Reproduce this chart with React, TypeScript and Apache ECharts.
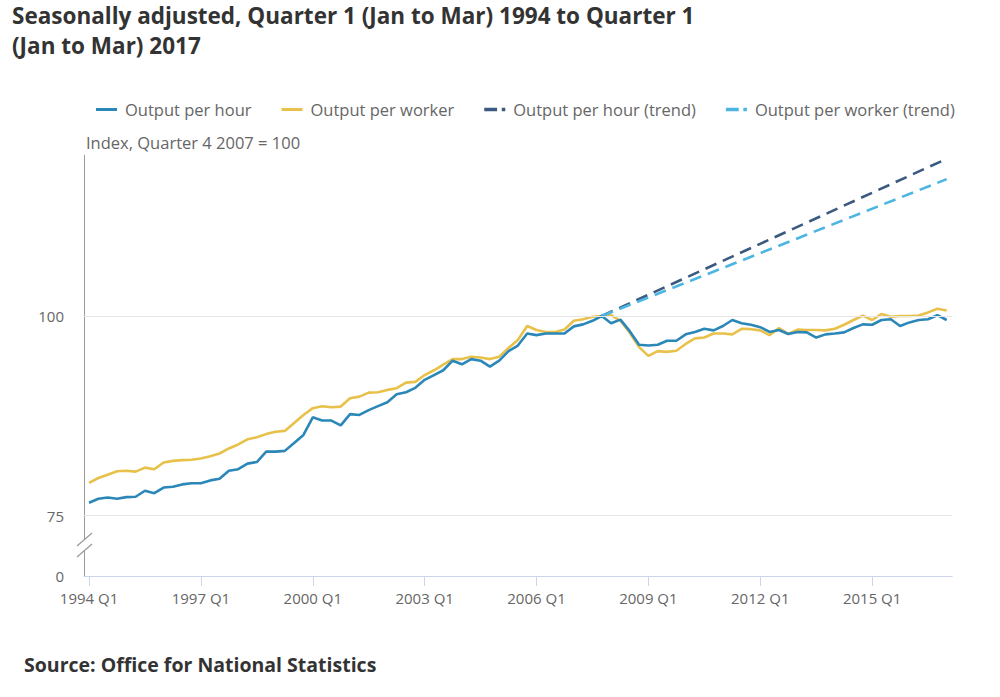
import React, { useEffect, useRef } from "react";
import * as echarts from "echarts";

const quarters: string[] = [];
for (let y = 1994; y <= 2017; y++) {
  for (let q = 1; q <= 4; q++) {
    if (y === 2017 && q > 1) break;
    quarters.push(`${y} Q${q}`);
  }
}

const tickIndices = [0, 12, 24, 36, 48, 60, 72, 84];

const outputPerHour = [
  76.6, 77.1, 77.25, 77.1, 77.3, 77.35, 78.1, 77.8, 78.5, 78.6,
  78.9, 79.05, 79.05, 79.4, 79.6, 80.6, 80.8, 81.5, 81.7, 83.0,
  83.0, 83.1, 84.1, 85.1, 87.3, 86.9, 86.9, 86.3, 87.7, 87.6,
  88.2, 88.7, 89.2, 90.2, 90.45, 91.0, 92.0, 92.6, 93.2, 94.4,
  93.95, 94.6, 94.4, 93.65, 94.4, 95.6, 96.3, 97.8, 97.6, 97.8,
  97.8, 97.8, 98.7, 98.95, 99.4, 100, 99.1, 99.55, 98.1, 96.4,
  96.3, 96.4, 96.9, 96.9, 97.7, 98.0, 98.4, 98.2, 98.75, 99.5,
  99.1, 98.9, 98.6, 98.0, 98.25, 97.75, 98.0, 97.95, 97.3, 97.7,
  97.8, 97.95, 98.5, 98.95, 98.9, 99.5, 99.6, 98.75, 99.2, 99.5,
  99.6, 100.1, 99.5,
];

const outputPerWorker = [
  79.1, 79.7, 80.1, 80.55, 80.6, 80.5, 81.0, 80.8, 81.65, 81.85,
  81.94, 81.98, 82.14, 82.44, 82.77, 83.4, 83.9, 84.55, 84.8, 85.2,
  85.5, 85.6, 86.6, 87.6, 88.45, 88.7, 88.57, 88.65, 89.7, 89.9,
  90.4, 90.45, 90.74, 90.95, 91.65, 91.75, 92.6, 93.2, 93.9, 94.6,
  94.6, 94.9, 94.8, 94.6, 94.9, 96.0, 97.0, 98.75, 98.25, 98.0,
  98.0, 98.3, 99.4, 99.6, 99.9, 100, 100.1, 99.4, 97.9, 96.1,
  95.0, 95.6, 95.5, 95.65, 96.5, 97.2, 97.3, 97.8, 97.8, 97.7,
  98.4, 98.35, 98.2, 97.6, 98.5, 97.75, 98.3, 98.25, 98.25, 98.2,
  98.4, 98.9, 99.5, 100.05, 99.5, 100.25, 99.9, 100.0, 100.0, 100.05,
  100.45, 100.9, 100.7,
];

// trend lines: [quarter index, value]
const hourTrend = [
  [55, 100],
  [92, 119.7],
];
const workerTrend = [
  [55, 100],
  [92, 117.15],
];

const yBreakValue = 67.42; // position labelled "0" (broken axis)
const yLabelValues = [yBreakValue, 75, 100];
const gridValues = [75, 100];

const titleLines = [
  "Seasonally adjusted, Quarter 1 (Jan to Mar) 1994 to Quarter 1",
  "(Jan to Mar) 2017",
];

const FONT = '"Open Sans", "Noto Sans", sans-serif';

export default function App() {
  const ref = useRef<HTMLDivElement>(null);

  useEffect(() => {
    document.body.style.margin = "0";
    if (!ref.current) return;
    const chart = echarts.init(ref.current, undefined, { renderer: "svg" });

    const toPairs = (arr: number[]) => arr.map((v, i) => [i, v]);

    chart.setOption({
      animation: false,
      textStyle: { fontFamily: FONT },
      grid: { left: 84, right: 47.7, top: 155.2, bottom: 121, containLabel: false },
      legend: {
        left: 91,
        top: 96,
        itemWidth: 21,
        itemHeight: 14,
        itemGap: 30,
        textStyle: { fontSize: 16.5, color: "#666", fontFamily: FONT, padding: [0, 0, 0, 3] },
        data: [
          { name: "Output per hour", icon: "path://M0,6h21v3h-21z", itemStyle: { color: "#2a87b8" } },
          { name: "Output per worker", icon: "path://M0,6h21v3h-21z", itemStyle: { color: "#e8c14a" } },
          { name: "Output per hour (trend)", icon: "path://M0,6h11v3h-11zM15,6h3v3h-3z", itemStyle: { color: "#3b5a80" } },
          { name: "Output per worker (trend)", icon: "path://M0,6h11v3h-11zM15,6h3v3h-3z", itemStyle: { color: "#4db5e2" } },
        ],
      },
      xAxis: {
        type: "value",
        min: -0.54,
        max: 92.6,
        axisLine: { show: true, onZero: false, lineStyle: { color: "#ccd6eb", width: 1 } },
        axisTick: {
          show: true,
          length: 10,
          customValues: tickIndices,
          lineStyle: { color: "#ccd6eb" },
        },
        axisLabel: {
          customValues: tickIndices,
          formatter: (v: number) => quarters[Math.round(v)] ?? "",
          fontSize: 15,
          color: "#666",
          margin: 14,
          fontFamily: FONT,
        },
        splitLine: { show: false },
      },
      yAxis: {
        type: "value",
        min: yBreakValue,
        max: 120.15,
        axisLine: { show: true, onZero: false, lineStyle: { color: "#999", width: 1 } },
        axisTick: { show: false },
        axisLabel: {
          customValues: yLabelValues,
          formatter: (v: number) => (v < 70 ? "0" : String(v)),
          fontSize: 15,
          color: "#666",
          margin: 20,
          fontFamily: FONT,
        },
        splitLine: { show: false },
      },
      series: [
        {
          name: "grid",
          type: "line",
          data: [],
          silent: true,
          z: 1,
          markLine: {
            silent: true,
            symbol: ["none", "none"],
            label: { show: false },
            lineStyle: { color: "#e6e6e6", type: "solid", width: 1 },
            data: gridValues.map((v) => ({ yAxis: v })),
          },
        },
        {
          name: "Output per hour",
          type: "line",
          data: toPairs(outputPerHour),
          showSymbol: false,
          symbol: "none",
          lineStyle: { color: "#2a87b8", width: 2.6 },
          itemStyle: { color: "#2a87b8" },
          z: 3,
        },
        {
          name: "Output per worker",
          type: "line",
          data: toPairs(outputPerWorker),
          showSymbol: false,
          symbol: "none",
          lineStyle: { color: "#e8c14a", width: 2.6 },
          itemStyle: { color: "#e8c14a" },
          z: 2,
        },
        {
          name: "Output per hour (trend)",
          type: "line",
          data: hourTrend,
          showSymbol: false,
          symbol: "none",
          lineStyle: { color: "#3b5a80", width: 2.6, type: [12, 7] },
          itemStyle: { color: "#3b5a80" },
          z: 4,
        },
        {
          name: "Output per worker (trend)",
          type: "line",
          data: workerTrend,
          showSymbol: false,
          symbol: "none",
          lineStyle: { color: "#4db5e2", width: 2.6, type: [12, 7] },
          itemStyle: { color: "#4db5e2" },
          z: 4,
        },
      ],
      graphic: [
        {
          type: "text",
          left: 12,
          top: 0,
          style: {
            text: titleLines[0],
            fontSize: 22.5,
            fontWeight: "bold",
            fontFamily: FONT,
            fill: "#333",
            lineHeight: 31,
          },
        },
        {
          type: "text",
          left: 12,
          top: 30,
          style: {
            text: titleLines[1],
            fontSize: 22.5,
            fontWeight: "bold",
            fontFamily: FONT,
            fill: "#333",
            lineHeight: 31,
          },
        },
        {
          type: "text",
          left: 86,
          top: 134,
          style: {
            text: "Index, Quarter 4 2007 = 100",
            fontSize: 16.5,
            fontFamily: FONT,
            fill: "#666",
          },
        },
        {
          type: "text",
          left: 24,
          top: 654,
          style: {
            text: "Source: Office for National Statistics",
            fontSize: 19.5,
            fontWeight: "bold",
            fontFamily: FONT,
            fill: "#333",
          },
        },
        {
          type: "rect",
          shape: { x: 80, y: 540, width: 9, height: 11 },
          style: { fill: "#fff" },
          z: 100,
        },
        {
          type: "line",
          shape: { x1: 77, y1: 546, x2: 92, y2: 533 },
          style: { stroke: "#999", lineWidth: 1.2 },
          z: 101,
        },
        {
          type: "line",
          shape: { x1: 77, y1: 557, x2: 92, y2: 544 },
          style: { stroke: "#999", lineWidth: 1.2 },
          z: 101,
        },
      ],
    });

    return () => chart.dispose();
  }, []);

  return <div ref={ref} style={{ width: 1000, height: 697 }} />;
}
